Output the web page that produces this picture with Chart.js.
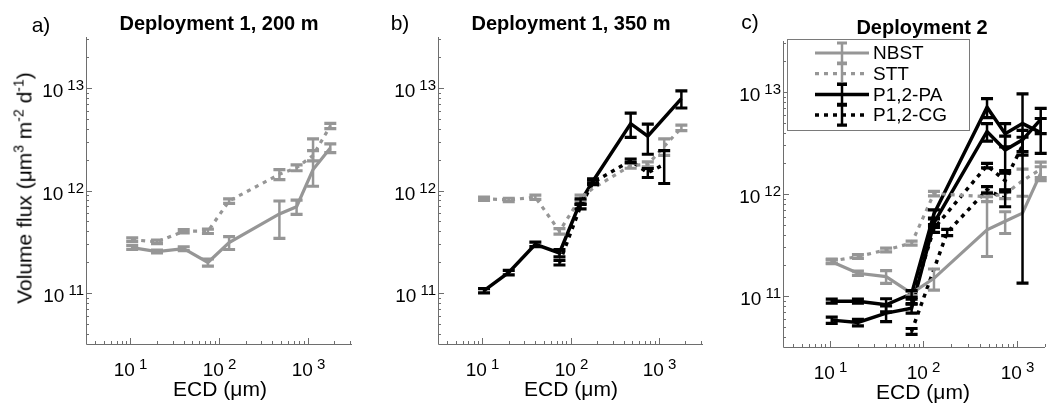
<!DOCTYPE html>
<html>
<head>
<meta charset="utf-8">
<script src="https://cdn.jsdelivr.net/npm/chart.js@4/dist/chart.umd.min.js"></script>
<style>
body { margin: 0; background: #fff; font-family: "Liberation Sans", Arial, sans-serif; }
#wrap { position: relative; width: 1055px; height: 412px; overflow: hidden; }
canvas { position: absolute; left: 0; top: 0; }
.txt { position: absolute; white-space: nowrap; color: #000; transform: translate(-50%, -50%); line-height: 1; }
.ttl { font-weight: bold; font-size: 20px; }
.lbl { font-size: 21px; }
.axt { font-size: 21px; }
.axt sup { font-size: 14px; vertical-align: 8px; }
</style>
</head>
<body>
<div id="wrap">
  <canvas id="panelA" width="1055" height="412"></canvas>
  <canvas id="panelB" width="1055" height="412"></canvas>
  <canvas id="panelC" width="1055" height="412"></canvas>

  <div class="txt lbl" style="left:41px; top:24px;">a)</div>
  <div class="txt lbl" style="left:400px; top:22px;">b)</div>
  <div class="txt lbl" style="left:750px; top:21px;">c)</div>

  <div class="txt ttl" style="left:219px; top:23px;">Deployment 1, 200 m</div>
  <div class="txt ttl" style="left:571px; top:23px;">Deployment 1, 350 m</div>
  <div class="txt ttl" style="left:922px; top:27px;">Deployment 2</div>

  <div class="txt axt" style="left:220px; top:388px;">ECD (μm)</div>
  <div class="txt axt" style="left:571px; top:388px;">ECD (μm)</div>
  <div class="txt axt" style="left:923px; top:391px;">ECD (μm)</div>

  <div class="txt axt" style="left:23px; top:188px; transform: translate(-50%, -50%) rotate(-90deg);">Volume flux (μm<sup>3</sup> m<sup>-2</sup> d<sup>-1</sup>)</div>
</div>

<script>
// ECD bin centres (um)
const ecd = [10.5, 20, 40, 75, 130, 180, 480, 750, 1150, 1800];

// error entries: a number is a symmetric +/- value, a pair is [low, high]

// Panel a - Deployment 1, 200 m
const nbstA    = [2.77e11, 2.53e11, 2.7e11, 1.98e11, 3.1e11, null, 5.9e11, 6.95e11, 1.6e12, 2.6e12];
const nbstAErr = [1.2e10, 8e9, 1.2e10, 1.6e10, 4.5e10, null, [3.4e11, 7.9e11], 1.1e11, [1.1e12, 3.2e12], 2.5e11];
const sttA     = [3.3e11, 3.15e11, 4.0e11, 4.0e11, 7.9e11, null, 1.44e12, 1.67e12, 2.2e12, 4.27e12];
const sttAErr  = [1.4e10, 1.3e10, 1.5e10, 2e10, 4e10, null, 1.6e11, 1.1e11, 2.5e11, 2.5e11];

// Panel b - Deployment 1, 350 m
const sttB     = [8.3e11, 8.1e11, 8.6e11, 4.0e11, 8.5e11, 1.05e12, 1.75e12, 1.8e12, 2.7e12, 4.1e12];
const sttBErr  = [3e10, 3e10, 4e10, 2.5e10, 5e10, null, 1e11, 1e11, 5e11, 2.5e11];
const paB      = [1.05e11, 1.58e11, 2.98e11, 2.45e11, 7.8e11, 1.24e12, 4.5e12, 3.4e12, null, 7.9e12];
const paBErr   = [5e9, 8e9, 1.5e10, 2e10, 5e10, 6e10, 1.2e12, [2.26e12, 4.45e12], null, 1.5e12];
const cgB      = [null, null, null, 1.97e11, 7.0e11, 1.2e12, 1.95e12, 1.49e12, 1.8e12, null];
const cgBErr   = [null, null, null, 1e10, 4e10, 6e10, 8e10, 1.5e11, [1.17e12, 2.45e12], null];

// Panel c - Deployment 2
const nbstC    = [2.17e11, 1.67e11, 1.55e11, 1.06e11, 1.49e11, null, 4.45e11, 5.4e11, 6.5e11, 1.6e12];
const nbstCErr = [1e10, 8e9, 2.2e10, 5e9, 3.5e10, null, [2.44e11, 9.4e11], 1.3e11, null, 2.5e11];
const sttC     = [2.2e11, 2.44e11, 2.83e11, 3.3e11, 1.01e12, null, 9.4e11, 1.0e12, 1.35e12, 1.75e12];
const sttCErr  = [1e10, 1e10, 1.2e10, 1.5e10, 5e10, null, 1e11, 1e11, 4e11, 3e11];
const pa1C     = [8.9e10, 8.9e10, 8.2e10, 1.05e11, 6.4e11, null, 7.1e12, 3.9e12, 4.9e12, 4.0e12];
const pa1CErr  = [4e9, 4e9, 1.2e10, 8e9, 6e10, null, 1.5e12, 1.0e12, [1.34e11, 9.6e12], 1.5e12];
const pa2C     = [5.8e10, 5.5e10, 6.8e10, 7.6e10, 5.2e11, null, 4.1e12, 2.7e12, 3.4e12, 5.4e12];
const pa2CErr  = [4e9, 4e9, 1.2e10, 8e9, 5e10, null, 8e11, 1.0e12, 8e11, 1.5e12];
const cg1C     = [null, null, null, 8.8e10, 4.6e11, null, 1.9e12, 1.35e12, 3.0e12, null];
const cg1CErr  = [null, null, null, 5e9, 4e10, null, 1e11, 2.5e11, 6e11, null];
const cg2C     = [null, null, null, 4.5e10, null, 4.2e11, 1.1e12, 9.0e11, null, null];
const cg2CErr  = [null, null, null, 3e9, null, 3e10, 8e10, 1.5e11, null, null];

const GRAY = '#969696';
const BLACK = '#000000';
const AXIS = '#6e6e6e';

function series(label, vals, errs, color, dotted, inLegend) {
    const data = [];
    const e = [];
    vals.forEach(function(v, i) {
        if (v === null) return;
        data.push({ x: ecd[i], y: v });
        e.push(errs[i]);
    });
    return {
        label: label,
        data: data,
        errs: e,
        borderColor: color,
        borderWidth: color === BLACK ? 3.5 : 3.2,
        borderDash: dotted ? [4, 5] : [],
        pointRadius: 0,
        tension: 0,
        fill: false,
        inLegend: inLegend !== false
    };
}

// draw 10^k with a raised exponent
function drawPow(ctx, k, x, y, align) {
    const base = '19px "Liberation Sans", Arial, sans-serif';
    const sup = '15px "Liberation Sans", Arial, sans-serif';
    ctx.font = base;
    const wb = ctx.measureText('10').width;
    ctx.font = sup;
    const we = ctx.measureText(String(k)).width;
    const gap = 4;
    const total = wb + gap + we;
    const x0 = align === 'right' ? x - total : x - total / 2;
    ctx.fillStyle = '#000';
    ctx.textAlign = 'left';
    ctx.textBaseline = 'alphabetic';
    ctx.font = base;
    ctx.fillText('10', x0, y);
    ctx.font = sup;
    ctx.fillText(String(k), x0 + wb + gap, y - 7);
}

function errorBar(ctx, px, yTop, yBot, color, half) {
    ctx.strokeStyle = color;
    ctx.lineWidth = 2.5;
    ctx.beginPath();
    ctx.moveTo(px, yTop);
    ctx.lineTo(px, yBot);
    ctx.stroke();
    ctx.lineWidth = 3.2;
    ctx.beginPath();
    ctx.moveTo(px - half, yTop); ctx.lineTo(px + half, yTop);
    ctx.moveTo(px - half, yBot); ctx.lineTo(px + half, yBot);
    ctx.stroke();
}

const matlabAxes = {
    id: 'matlabAxes',
    afterDatasetsDraw(chart) {
        const ctx = chart.ctx, xs = chart.scales.x, ys = chart.scales.y;
        ctx.save();
        chart.data.datasets.forEach(function(ds) {
            ds.data.forEach(function(p, j) {
                const e = ds.errs[j];
                if (e === null || e === undefined) return;
                const lo = Array.isArray(e) ? e[0] : Math.max(p.y - e, ys.min);
                const hi = Array.isArray(e) ? e[1] : p.y + e;
                const px = xs.getPixelForValue(p.x);
                errorBar(ctx, px, ys.getPixelForValue(hi), ys.getPixelForValue(lo), ds.borderColor, 6);
            });
        });
        ctx.restore();
    },
    afterDraw(chart) {
        const ctx = chart.ctx, xs = chart.scales.x, ys = chart.scales.y, a = chart.chartArea;
        ctx.save();
        // axis lines (box off)
        ctx.strokeStyle = AXIS;
        ctx.lineWidth = 1;
        ctx.beginPath();
        ctx.moveTo(a.left + 0.5, a.top);
        ctx.lineTo(a.left + 0.5, a.bottom + 0.5);
        ctx.lineTo(a.right, a.bottom + 0.5);
        ctx.stroke();

        // x ticks
        for (let k = 0; k <= 4; k++) {
            for (let m = 1; m <= 9; m++) {
                const v = m * Math.pow(10, k);
                if (v < xs.min || v > xs.max) continue;
                const px = Math.round(xs.getPixelForValue(v)) + 0.5;
                const len = m === 1 ? 6 : 3;
                ctx.beginPath();
                ctx.moveTo(px, a.bottom);
                ctx.lineTo(px, a.bottom - len);
                ctx.stroke();
                if (m === 1) drawPow(ctx, k, px, a.bottom + 32, 'center');
            }
        }
        // y ticks
        for (let k = 10; k <= 14; k++) {
            for (let m = 1; m <= 9; m++) {
                const v = m * Math.pow(10, k);
                if (v < ys.min || v > ys.max) continue;
                const py = Math.round(ys.getPixelForValue(v)) + 0.5;
                const len = m === 1 ? 6 : 3;
                ctx.beginPath();
                ctx.moveTo(a.left, py);
                ctx.lineTo(a.left + len, py);
                ctx.stroke();
                if (m === 1) drawPow(ctx, k, a.left - 2, py + 8, 'right');
            }
        }

        // legend box
        if (chart.options.plugins.matlabAxes && chart.options.plugins.matlabAxes.legend) {
            const items = chart.data.datasets.filter(function(d) { return d.inLegend; });
            const bx = a.left + 4, by = a.top - 2, bw = 182, bh = 91;
            ctx.fillStyle = '#fff';
            ctx.fillRect(bx, by, bw, bh);
            ctx.strokeStyle = '#7a7a7a';
            ctx.lineWidth = 1;
            ctx.strokeRect(bx + 0.5, by + 0.5, bw, bh);
            items.forEach(function(d, i) {
                const cy = by + 14 + i * 20.7;
                ctx.strokeStyle = d.borderColor;
                ctx.lineWidth = d.borderWidth;
                ctx.setLineDash(d.borderDash);
                ctx.beginPath();
                ctx.moveTo(bx + 28, cy);
                ctx.lineTo(bx + 82, cy);
                ctx.stroke();
                ctx.setLineDash([]);
                errorBar(ctx, bx + 55, cy - 10, cy + 10, d.borderColor, 5);
                ctx.fillStyle = '#000';
                ctx.font = '19px "Liberation Sans", Arial, sans-serif';
                ctx.textAlign = 'left';
                ctx.textBaseline = 'middle';
                ctx.fillText(d.label, bx + 86, cy + 1);
            });
        }
        ctx.restore();
    }
};

function makePanel(id, area, xMax, datasets, legend) {
    const zero = function(scale) { scale.width = 0; scale.height = 0; };
    return new Chart(document.getElementById(id), {
        type: 'line',
        data: { datasets: datasets },
        options: {
            responsive: false,
            animation: false,
            layout: {
                padding: { left: area.left, top: area.top, right: 1055 - area.right, bottom: 412 - area.bottom }
            },
            plugins: {
                legend: { display: false },
                tooltip: { enabled: false },
                matlabAxes: { legend: legend }
            },
            scales: {
                x: {
                    type: 'logarithmic', min: Math.pow(10, 0.5), max: xMax,
                    ticks: { display: false }, grid: { display: false }, border: { display: false },
                    afterFit: zero
                },
                y: {
                    type: 'logarithmic', min: Math.pow(10, 10.5), max: Math.pow(10, 13.5),
                    ticks: { display: false }, grid: { display: false }, border: { display: false },
                    afterFit: zero
                }
            }
        },
        plugins: [matlabAxes]
    });
}

makePanel('panelA', { left: 86, top: 37, right: 352, bottom: 344 }, Math.pow(10, 3.5), [
    series('NBST', nbstA, nbstAErr, GRAY, false),
    series('STT', sttA, sttAErr, GRAY, true)
], false);

makePanel('panelB', { left: 438, top: 37, right: 703, bottom: 344 }, Math.pow(10, 3.5), [
    series('STT', sttB, sttBErr, GRAY, true),
    series('P1,2-CG', cgB, cgBErr, BLACK, true),
    series('P1,2-PA', paB, paBErr, BLACK, false)
], false);

makePanel('panelC', { left: 783, top: 41, right: 1045, bottom: 347 }, 2000, [
    series('NBST', nbstC, nbstCErr, GRAY, false),
    series('STT', sttC, sttCErr, GRAY, true),
    series('P1,2-PA', pa1C, pa1CErr, BLACK, false),
    series('P1,2-PA', pa2C, pa2CErr, BLACK, false, false),
    series('P1,2-CG', cg1C, cg1CErr, BLACK, true),
    series('P1,2-CG', cg2C, cg2CErr, BLACK, true, false)
], true);
</script>
</body>
</html>
